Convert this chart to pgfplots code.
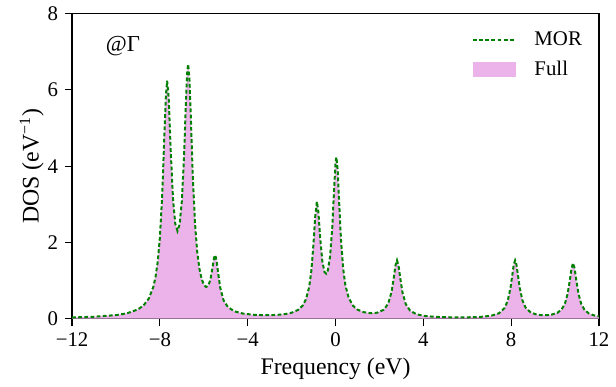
\documentclass[border=0pt]{standalone}
\usepackage{fontspec}
\setmainfont{Liberation Serif}
\usepackage{pgfplots}
\pgfplotsset{compat=1.18}
\usepackage{pgfplotstable}
\definecolor{fullpink}{RGB}{236,178,234}
\definecolor{morgreen}{RGB}{0,128,0}
\pgfplotsset{
  morlegend/.style={legend image code/.code={\draw[##1] (0pt,0pt) -- (21.5pt,0pt);}},
  fulllegend/.style={legend image code/.code={\fill[##1] (0pt,-3.7pt) rectangle (21.5pt,3.7pt);}},
}

\pgfplotstableread{
x y
-12 0.032
-11 0.051
-10 0.094
-9.5 0.141
-9 0.243
-8.75 0.344
-8.5 0.533
-8.3 0.833
-8.2 1.091
-8.1 1.489
-8.0 2.130
-7.9 3.181
-7.8 4.740
-7.73 5.826
-7.67 6.238
-7.6 5.793
-7.5 4.314
-7.4 3.124
-7.3 2.493
-7.2 2.300
-7.1 2.479
-7.0 3.087
-6.9 4.267
-6.8 5.896
-6.75 6.513
-6.71 6.674
-6.65 6.241
-6.6 5.447
-6.5 3.719
-6.4 2.497
-6.3 1.756
-6.2 1.313
-6.1 1.046
-6.0 0.894
-5.9 0.831
-5.8 0.861
-5.7 1.022
-5.6 1.354
-5.53 1.605
-5.48 1.665
-5.42 1.529
-5.35 1.211
-5.25 0.808
-5.1 0.481
-4.9 0.302
-4.6 0.192
-4.2 0.132
-3.7 0.101
-3.2 0.092
-2.7 0.098
-2.3 0.120
-2.0 0.156
-1.7 0.233
-1.5 0.343
-1.35 0.504
-1.2 0.832
-1.1 1.261
-1.0 1.996
-0.93 2.650
-0.85 3.072
-0.78 2.794
-0.7 2.127
-0.6 1.501
-0.5 1.219
-0.42 1.181
-0.35 1.268
-0.25 1.625
-0.15 2.383
-0.07 3.330
0.0 4.094
0.04 4.237
0.1 3.885
0.17 2.996
0.25 2.055
0.35 1.303
0.45 0.877
0.6 0.545
0.8 0.338
1.0 0.237
1.3 0.169
1.6 0.145
1.9 0.157
2.2 0.235
2.4 0.397
2.55 0.697
2.65 1.061
2.73 1.395
2.8 1.531
2.87 1.392
2.95 1.055
3.05 0.687
3.2 0.380
3.4 0.209
3.7 0.113
4.1 0.068
4.6 0.046
5.3 0.036
6.0 0.036
6.6 0.047
7.1 0.078
7.45 0.143
7.7 0.280
7.85 0.483
7.97 0.809
8.05 1.139
8.12 1.425
8.18 1.530
8.24 1.426
8.31 1.140
8.39 0.812
8.51 0.487
8.66 0.287
8.9 0.157
9.2 0.102
9.5 0.089
9.8 0.100
10.1 0.151
10.3 0.243
10.45 0.398
10.57 0.648
10.67 1.000
10.75 1.323
10.82 1.455
10.89 1.322
10.97 0.998
11.07 0.644
11.19 0.391
11.34 0.233
11.54 0.137
11.8 0.082
12 0.058
}\dos

\begin{document}
\begin{tikzpicture}
\begin{axis}[
  scale only axis,
  width=265.65pt, height=153.8pt,
  xmin=-12, xmax=12, ymin=0, ymax=8,
  xtick={-12,-8,-4,0,4,8,12},
  xticklabels={−12,−8,−4,0,4,8,12},
  ytick={0,2,4,6,8},
  yticklabels={0,2,4,6,8},
  xtick pos=lower, ytick pos=left,
  tick align=outside,
  major tick length=3.5pt,
  tick style={black, line width=0.6pt},
  axis line style={line width=0.8pt},
  ticklabel style={font=\fontsize{10.5}{12}\selectfont},
  xlabel={Frequency (eV)},
  ylabel={DOS (eV\textsuperscript{−1})},
  label style={font=\fontsize{12}{14}\selectfont},
  xlabel style={at={(rel axis cs:0.5,-0.165)}, anchor=center},
  ylabel style={at={(rel axis cs:-0.0766,0.5)}, anchor=center},
  legend style={at={(rel axis cs:0.759,0.8648)}, anchor=west, draw=none, fill=none,
    inner sep=0pt, outer sep=0pt, row sep=5pt, column sep=9pt,
    font=\fontsize{10.5}{12}\selectfont,
    nodes={inner sep=0pt, text height=8pt, text depth=2pt}},
  legend cell align=left,
]
\addplot[fill=fullpink, draw=none, forget plot] table[x=x,y=y] {\dos} \closedcycle;
\addplot[morgreen, line width=1pt, dash pattern=on 1.9pt off 1.2pt, forget plot] table[x=x,y=y] {\dos};
\addlegendimage{morgreen, line width=1pt, dash pattern=on 1.9pt off 1.2pt, morlegend}
\addlegendentry{MOR}
\addlegendimage{fill=fullpink, draw=none, fulllegend}
\addlegendentry{Full}
\node[font=\fontsize{11.5}{13}\selectfont, anchor=center] at (rel axis cs:0.0966,0.895) {@Γ};
\coordinate (bbsw) at (rel axis cs:-0.1368,-0.2168);
\coordinate (bbne) at (rel axis cs:1.0226,1.038);
\end{axis}
\path (bbsw) rectangle (bbne);
\end{tikzpicture}
\end{document}
